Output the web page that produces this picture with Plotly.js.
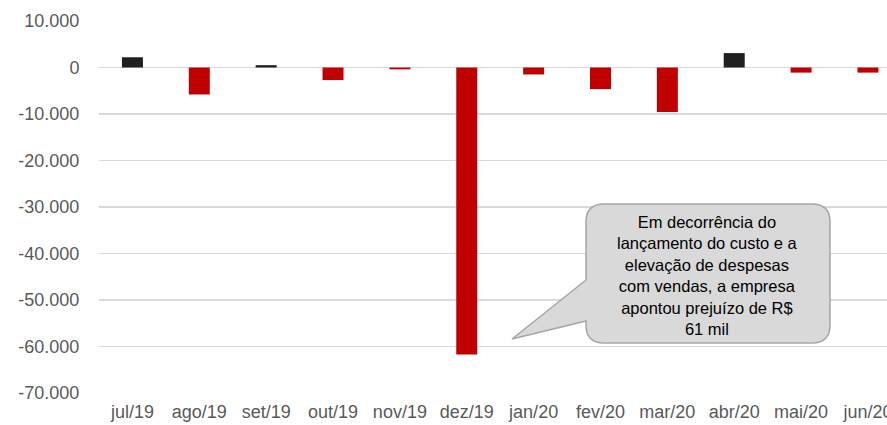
<!DOCTYPE html>
<html>
<head>
<meta charset="utf-8">
<script src="https://cdn.plot.ly/plotly-3.0.1.min.js"></script>
<style>html,body{margin:0;padding:0;background:#fff;}#chart{width:887px;height:425px;}</style>
</head>
<body>
<div id="chart"></div>
<script>
const months = ['jul/19','ago/19','set/19','out/19','nov/19','dez/19','jan/20','fev/20','mar/20','abr/20','mai/20','jun/20'];
const values = [2200, -5800, 500, -2700, -400, -61700, -1500, -4650, -9550, 3100, -1100, -1100];
const yTickVals = [10000, 0, -10000, -20000, -30000, -40000, -50000, -60000, -70000];
const yTickLabels = ['10.000', '0', '-10.000', '-20.000', '-30.000', '-40.000', '-50.000', '-60.000', '-70.000'];
const calloutText = 'Em decorrência do<br>lançamento do custo e a<br>elevação de despesas<br>com vendas, a empresa<br>apontou prejuízo de R$<br>61 mil';

const W = 887, H = 425;
const M = {l: 99, r: 0, t: 21, b: 32};
const pw = W - M.l - M.r, ph = H - M.t - M.b;
const px = x => ((x - M.l) / pw).toFixed(5);
const py = y => ((H - M.b - y) / ph).toFixed(5);

// callout geometry (pixels)
const L = 586, R = 830, T = 204, B = 343, r = 18;
const path = [
  'M', px(L + r), py(T),
  'L', px(R - r), py(T),
  'Q', px(R), py(T), px(R), py(T + r),
  'L', px(R), py(B - r),
  'Q', px(R), py(B), px(R - r), py(B),
  'L', px(L + r), py(B),
  'Q', px(L), py(B), px(L), py(B - r),
  'L', px(L), py(321),
  'L', px(512), py(339),
  'L', px(L), py(280),
  'L', px(L), py(T + r),
  'Q', px(L), py(T), px(L + r), py(T),
  'Z'
].join(' ');

const trace = {
  type: 'bar',
  x: months,
  y: values,
  marker: {color: values.map(v => v >= 0 ? '#1f1f1f' : '#c00000'), line: {width: 0}},
  hoverinfo: 'x+y'
};

const layout = {
  width: W, height: H,
  margin: M,
  paper_bgcolor: '#ffffff',
  plot_bgcolor: '#ffffff',
  showlegend: false,
  bargap: 0.686,
  font: {family: 'Liberation Sans, Arial, sans-serif', color: '#595959'},
  xaxis: {
    type: 'category',
    range: [-0.5, 11.285],
    showgrid: false,
    zeroline: false,
    showline: false,
    ticks: 'outside',
    ticklen: 2,
    tickcolor: 'rgba(0,0,0,0)',
    tickfont: {family: 'Liberation Sans Narrow, Arial Narrow, Liberation Sans, Arial, sans-serif', size: 18, color: '#595959'},
    fixedrange: true
  },
  yaxis: {
    range: [-70000, 10000],
    tickvals: yTickVals,
    ticktext: yTickLabels,
    showgrid: true,
    gridcolor: '#d9d9d9',
    gridwidth: 1.5,
    zeroline: false,
    showline: false,
    ticks: 'outside',
    ticklen: 15,
    tickcolor: 'rgba(0,0,0,0)',
    tickfont: {family: 'Liberation Sans, Arial, sans-serif', size: 18, color: '#595959'},
    fixedrange: true
  },
  shapes: [{
    type: 'path',
    xref: 'paper', yref: 'paper',
    path: path,
    fillcolor: '#d9d9d9',
    line: {color: '#a6a6a6', width: 1.5},
    layer: 'above'
  }],
  annotations: [{
    xref: 'paper', yref: 'paper',
    x: Number(px((L + R) / 2)), y: Number(py(275)),
    xanchor: 'center', yanchor: 'middle',
    text: calloutText,
    showarrow: false,
    align: 'center',
    font: {family: 'Liberation Sans, Arial, sans-serif', size: 16.5, color: '#000000'}
  }]
};

Plotly.newPlot('chart', [trace], layout, {displayModeBar: false, staticPlot: true});
</script>
</body>
</html>
